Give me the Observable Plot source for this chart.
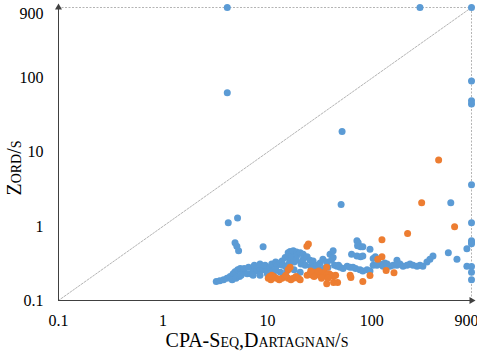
<!DOCTYPE html>
<html>
<head>
<meta charset="utf-8">
<script src="https://cdn.jsdelivr.net/npm/d3@7"></script>
<script src="https://cdn.jsdelivr.net/npm/@observablehq/plot@0.6"></script>
<style>
  body { margin: 0; background: #fff; }
  svg { display: block; }
</style>
</head>
<body>
<div id="chart"></div>
<script>
// Run times in seconds; 900 s is the timeout, 0.1 s the lower bound.
const floorTime = 0.1;
const timeout = 900;
const tickValues = [0.1, 1, 10, 100, 900];

// [CPA-Seq/Dartagnan time, Zord time] per task, CPA-Seq comparisons
const cpaSeq = [
  [4.13, 900], [289, 900], [900, 900],
  [4.13, 63.5], [51.9, 19.1], [50.8, 1.97], [570, 2.09],
  [4.22, 1.12], [5.18, 1.30],
  [900, 92], [900, 49.6], [900, 45], [900, 3.66], [900, 1.12], [900, 0.64],
  [900, 0.605], [900, 0.585], [900, 0.287], [900, 0.24], [900, 0.19],
  [813, 0.50], [813, 0.29], [653, 0.36], [540, 0.44], [385, 0.40], [360, 0.36],
  [4.9, 0.60], [5.1, 0.54], [5.3, 0.47], [9.1, 0.53],
  [3.24, 0.18], [3.5, 0.185], [3.8, 0.19], [4.1, 0.2], [4.4, 0.21], [4.7, 0.23],
  [4.9, 0.245], [5.2, 0.26], [5.5, 0.27], [4.6, 0.19], [5.0, 0.2], [5.4, 0.21],
  [5.9, 0.245], [6.4, 0.23], [6.9, 0.23], [7.3, 0.26], [8.0, 0.25], [8.5, 0.27],
  [9.1, 0.26], [10, 0.27], [6.0, 0.27], [6.6, 0.28], [7.5, 0.3], [8.5, 0.31],
  [9.5, 0.3], [7.3, 0.22], [8.5, 0.22], [10, 0.23], [5.6, 0.22],
  [10.6, 0.28], [11.4, 0.25], [11, 0.31], [12, 0.33], [12.4, 0.30], [13.3, 0.32],
  [13.8, 0.34], [14, 0.3], [14.8, 0.38], [15, 0.29], [15.8, 0.40], [16, 0.31],
  [16.5, 0.34], [16.5, 0.46], [15.8, 0.44], [17, 0.42], [17.7, 0.38], [17.7, 0.47],
  [18, 0.33], [19, 0.35], [19, 0.45], [19.3, 0.41], [20.6, 0.44], [21, 0.31],
  [22, 0.36], [22, 0.42], [23, 0.3], [24, 0.39], [25.6, 0.35], [26, 0.29],
  [27.4, 0.34], [28, 0.28], [29.9, 0.30], [31, 0.27], [32, 0.32], [34, 0.36],
  [35, 0.27], [37, 0.33], [38, 0.28], [39.8, 0.42], [41, 0.35], [42.6, 0.38],
  [42.6, 0.47], [44, 0.3], [46.5, 0.29], [48, 0.3],
  [11.4, 0.23], [13.3, 0.24], [15.3, 0.25], [20.6, 0.24], [12, 0.26], [18, 0.26],
  [72, 0.64], [74, 0.60], [73, 0.55], [78, 0.53], [82, 0.53], [96, 0.49],
  [64, 0.42], [72, 0.40], [78, 0.39], [82, 0.40], [103, 0.37], [108, 0.39],
  [133, 0.32], [174, 0.35],
  [49.7, 0.28], [53, 0.27], [58, 0.29], [62, 0.28], [66, 0.28], [70, 0.27],
  [77, 0.26], [82, 0.25], [90, 0.26], [96, 0.25], [103, 0.30], [112, 0.30],
  [120, 0.31], [128, 0.29], [140, 0.31], [149, 0.29], [160, 0.30], [174, 0.30],
  [186, 0.31], [199, 0.29], [217, 0.30], [232, 0.31], [248, 0.30], [271, 0.29],
  [289, 0.30], [308, 0.29], [337, 0.33]
];

// Dartagnan comparisons
const dartagnan = [
  [436, 7.9], [300, 2.09], [620, 0.99], [220, 0.80], [125, 0.66],
  [24.7, 0.58], [23.9, 0.54], [114, 0.36], [125, 0.39], [16.5, 0.28],
  [15.8, 0.26], [137, 0.254], [163, 0.236], [96, 0.217], [62, 0.22],
  [63, 0.205], [82, 0.18], [37, 0.168], [43, 0.175], [47, 0.175], [37, 0.28],
  [10.2, 0.2], [10.8, 0.19], [11.5, 0.21], [12.2, 0.2], [13, 0.19], [13.8, 0.2],
  [14.8, 0.21], [15.8, 0.2], [16.8, 0.19], [17.7, 0.2], [18.8, 0.21], [19.8, 0.2],
  [20.6, 0.19], [11, 0.22], [15, 0.22], [10.5, 0.21],
  [24, 0.22], [25.5, 0.23], [27, 0.22], [28.5, 0.24], [30, 0.23], [31.5, 0.22],
  [33, 0.23], [35, 0.24], [37, 0.22], [39, 0.23], [41, 0.22], [43, 0.21],
  [45, 0.22], [28, 0.21], [33, 0.2], [38, 0.2], [26, 0.25], [31, 0.25]
];

const serif = "'Liberation Serif', 'Times New Roman', serif";
const fmt = d => String(d);
const guide = { stroke: "#b4b4b4", strokeWidth: 1, strokeDasharray: "2,1.5" };
const axisInk = "#404040";
const label = { text: fmt, fontSize: 16, fill: "#000" };
const lowTicks = tickValues.slice(0, -1);
const timeoutTick = tickValues.slice(-1);

const chart = Plot.plot({
  width: 477,
  height: 355,
  marginLeft: 58,
  marginRight: 6,
  marginTop: 7,
  marginBottom: 55,
  style: { fontSize: "16px", color: "#000", background: "#fff" },
  x: { type: "log", domain: [floorTime, timeout], axis: null },
  y: { type: "log", domain: [floorTime, timeout], axis: null },
  marks: [
    // tick labels
    Plot.text(lowTicks, { x: d => d, y: floorTime, dy: 20, ...label }),
    Plot.text(timeoutTick, { x: d => d, y: floorTime, dy: 20, dx: -5, ...label }),
    Plot.text(lowTicks, { x: floorTime, y: d => d, dx: -15, textAnchor: "end", ...label }),
    Plot.text(timeoutTick, { x: floorTime, y: d => d, dx: -15, dy: 6, textAnchor: "end", ...label }),
    // timeout guides and the diagonal of equal run time
    Plot.ruleY([timeout], { x1: floorTime, x2: timeout, ...guide }),
    Plot.ruleX([timeout], { y1: floorTime, y2: timeout, ...guide }),
    Plot.line([[floorTime, floorTime], [timeout, timeout]], { x: d => d[0], y: d => d[1], ...guide }),
    // axis lines with arrow heads
    Plot.ruleX([floorTime], { y1: floorTime, y2: timeout, stroke: axisInk }),
    Plot.ruleY([floorTime], { x1: floorTime, x2: timeout, stroke: axisInk }),
    Plot.dot([[floorTime, timeout]], { x: d => d[0], y: d => d[1], symbol: "triangle", r: 2.6, fill: axisInk }),
    Plot.dot([[timeout, floorTime]], { x: d => d[0], y: d => d[1], symbol: "triangle", rotate: 90, r: 2.6, fill: axisInk }),
    // tasks
    Plot.dot(cpaSeq, { x: d => d[0], y: d => d[1], r: 3.5, fill: "#5B9BD5" }),
    Plot.dot(dartagnan, { x: d => d[0], y: d => d[1], r: 3.5, fill: "#ED7D31" })
  ]
});

const svg = d3.select(chart);
svg.append("text")
  .attr("x", 257)
  .attr("y", 347)
  .attr("text-anchor", "middle")
  .style("font-size", "20px")
  .style("font-variant", "small-caps")
  .attr("fill", "#000")
  .text("CPA-Seq,Dartagnan/s");
svg.append("text")
  .attr("transform", "translate(21,168) rotate(-90)")
  .attr("text-anchor", "middle")
  .style("font-size", "20px")
  .style("font-variant", "small-caps")
  .attr("fill", "#000")
  .text("Zord/s");

// one serif face for every label
svg.style("font-family", serif);
svg.selectAll("text").style("font-family", serif);

document.getElementById("chart").appendChild(chart);
</script>
</body>
</html>
